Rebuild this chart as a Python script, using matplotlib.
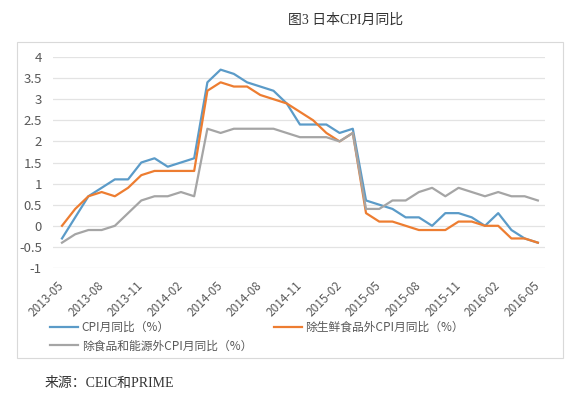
import matplotlib
matplotlib.use("Agg")
import matplotlib.pyplot as plt
import matplotlib.ticker as ticker
from matplotlib.patches import Rectangle
from matplotlib.transforms import ScaledTranslation

# monthly data, 2013-05 .. 2016-05
tick_labels = ["2013-05", "2013-08", "2013-11", "2014-02", "2014-05",
               "2014-08", "2014-11", "2015-02", "2015-05", "2015-08",
               "2015-11", "2016-02", "2016-05"]
cpi = [-0.3, 0.2, 0.7, 0.9, 1.1, 1.1, 1.5, 1.6,
       1.4, 1.5, 1.6, 3.4, 3.7, 3.6, 3.4, 3.3, 3.2, 2.9, 2.4, 2.4,
       2.4, 2.2, 2.3, 0.6, 0.5, 0.4, 0.2, 0.2, 0.0, 0.3, 0.3, 0.2,
       0.0, 0.3, -0.1, -0.3, -0.4]
cpi_ex_fresh = [0.0, 0.4, 0.7, 0.8, 0.7, 0.9, 1.2, 1.3,
                1.3, 1.3, 1.3, 3.2, 3.4, 3.3, 3.3, 3.1, 3.0, 2.9, 2.7, 2.5,
                2.2, 2.0, 2.2, 0.3, 0.1, 0.1, 0.0, -0.1, -0.1, -0.1, 0.1, 0.1,
                0.0, 0.0, -0.3, -0.3, -0.4]
cpi_ex_food_energy = [-0.4, -0.2, -0.1, -0.1, 0.0, 0.3, 0.6, 0.7,
                      0.7, 0.8, 0.7, 2.3, 2.2, 2.3, 2.3, 2.3, 2.3, 2.2, 2.1, 2.1,
                      2.1, 2.0, 2.2, 0.4, 0.4, 0.6, 0.6, 0.8, 0.9, 0.7, 0.9, 0.8,
                      0.7, 0.8, 0.7, 0.7, 0.6]

plt.rcParams["font.family"] = ["Noto Sans CJK SC", "DejaVu Sans"]

W, H = 581, 393
fig = plt.figure(figsize=(W / 100, H / 100), dpi=100)
fig.patch.set_facecolor("white")

# outer chart frame
fig.patches.append(Rectangle((17 / W, 1 - 358 / H), (563 - 17) / W, (358 - 42) / H,
                             transform=fig.transFigure, fill=False,
                             edgecolor="#d9d9d9", linewidth=0.8))

ax = fig.add_axes([53 / W, 1 - 268 / H, (545 - 53) / W, (268 - 57) / H])
x = list(range(len(cpi)))
l1, = ax.plot(x, cpi, color="#5b9bc8", lw=1.6, label="CPI月同比（%）")
l2, = ax.plot(x, cpi_ex_fresh, color="#ed7d31", lw=1.6, label="除生鲜食品外CPI月同比（%）")
l3, = ax.plot(x, cpi_ex_food_energy, color="#a5a5a5", lw=1.6, label="除食品和能源外CPI月同比（%）")

ax.set_xlim(-0.68, 36.54)
ax.set_ylim(-1, 4)
ax.yaxis.set_major_locator(ticker.MultipleLocator(0.5))
ax.yaxis.set_major_formatter(ticker.FuncFormatter(lambda v, p: "%g" % v))
ax.set_xticks(range(0, len(cpi), 3))
ax.set_xticklabels(tick_labels, rotation=45, ha="right", va="center",
                   rotation_mode="anchor")
for lab in ax.get_xticklabels():
    lab.set_transform(lab.get_transform() + ScaledTranslation(6 / 72, 0, fig.dpi_scale_trans))

ax.grid(axis="y", color="#e3e3e3", lw=0.9)
ax.set_axisbelow(True)
for s in ax.spines.values():
    s.set_visible(False)
ax.tick_params(axis="y", length=0, pad=8, labelsize=9.5, labelcolor="#595959")
ax.tick_params(axis="x", length=0, pad=11, labelsize=8.5, labelcolor="#595959")

fig.legend([l1, l3, l2], [l1.get_label(), l3.get_label(), l2.get_label()],
           ncol=2, loc="upper left", bbox_to_anchor=(50 / W, 1 - 321 / H),
           frameon=False, borderpad=0, borderaxespad=0, fontsize=8.5,
           handlelength=2.4, handletextpad=0.3, columnspacing=1.8,
           labelspacing=0.45, labelcolor="#595959")

fig.text(288 / W, 1 - 20 / H, "图3 日本CPI月同比", ha="left", va="center",
         fontsize=10, color="#333333", family=["Liberation Serif", "Noto Sans CJK SC"])
fig.text(45 / W, 1 - 383 / H, "来源：CEIC和PRIME", ha="left", va="center",
         fontsize=10, color="#333333", family=["Liberation Serif", "Noto Sans CJK SC"])

fig.savefig("out.png", dpi=100)
